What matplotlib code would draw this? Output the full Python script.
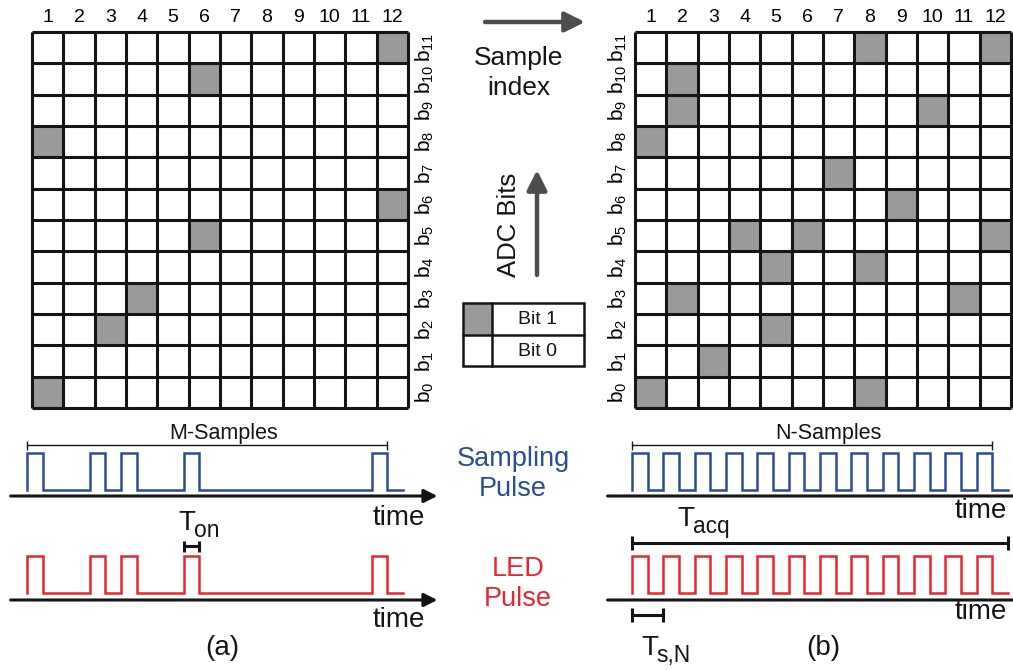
import numpy as np
import matplotlib
matplotlib.use("Agg")
import matplotlib.pyplot as plt
from matplotlib.patches import Rectangle

plt.rcParams["font.family"] = ["Liberation Sans", "DejaVu Sans"]
plt.rcParams["mathtext.fontset"] = "custom"
plt.rcParams["mathtext.rm"] = "Liberation Sans"
plt.rcParams["mathtext.it"] = "Liberation Sans"

# --- data -------------------------------------------------------------
n_cols = 12
n_bits = 12
col_labels = [str(i) for i in range(1, n_cols + 1)]
bit_labels = [rf"$\mathregular{{b_{{{i}}}}}$" for i in range(n_bits)]

# (column, bit) pairs set to 1
cells_a = [(12, 11), (6, 10), (1, 8), (12, 6), (6, 5), (4, 3), (3, 2), (1, 0)]
cells_b = [(8, 11), (12, 11), (2, 10), (2, 9), (10, 9), (1, 8), (7, 7), (9, 6),
           (4, 5), (6, 5), (12, 5), (5, 4), (8, 4), (2, 3), (11, 3), (5, 2),
           (3, 1), (1, 0), (8, 0)]

# sample slots that fire a pulse
pulses_a = [1, 3, 4, 6, 12]
pulses_b = list(range(1, 13))
duty = 0.5

# --- style ------------------------------------------------------------
W, H = 1013, 670
P = 31.33  # px per sample slot
GRAY = "#9a9a9a"
INK = "#151515"
BLUE = "#2b4c98"
RED = "#e8262e"

fig = plt.figure(figsize=(W / 100, H / 100), dpi=100)


def px_axes(l, t, w, h, **kw):
    return fig.add_axes([l / W, 1 - (t + h) / H, w / W, h / H], **kw)


def draw_grid(ax, cells, side):
    ax.set_xlim(0.5, n_cols + 0.5)
    ax.set_ylim(-0.5, n_bits - 0.5)
    for c, b in cells:
        ax.add_patch(Rectangle((c - 0.5, b - 0.5), 1, 1, color=GRAY, lw=0))
    ax.vlines(np.arange(0.5, n_cols + 1), -0.5, n_bits - 0.5, color=INK, lw=2.2, clip_on=False)
    ax.hlines(np.arange(-0.5, n_bits), 0.5, n_cols + 0.5, color=INK, lw=2.2, clip_on=False)
    for s in ax.spines.values():
        s.set_visible(False)
    ax.set_xticks(range(1, n_cols + 1))
    ax.set_xticklabels(col_labels, fontsize=14)
    ax.xaxis.tick_top()
    ax.set_yticks(range(n_bits))
    ax.set_yticklabels(bit_labels, fontsize=15, rotation=90, va="center")
    if side == "right":
        ax.yaxis.tick_right()
    ax.tick_params(length=0, pad=4)
    ax.tick_params(axis="y", pad=4)


grid_a = px_axes(32, 32, 376, 376)
draw_grid(grid_a, cells_a, "right")
grid_b = px_axes(635, 32, 376, 376)
draw_grid(grid_b, cells_b, "left")


def pulse_xy(slots, t_end, hi, lo):
    xs, ys = [0], [lo]
    for s in slots:
        t = s - 1
        xs += [t, t, t + duty, t + duty]
        ys += [lo, hi, hi, lo]
    xs.append(t_end)
    ys.append(lo)
    return xs, ys


def bracket(ax, t0, t1, y, half, lw):
    ax.plot([t0, t1], [y, y], color=INK, lw=lw, solid_capstyle="butt")
    ax.vlines([t0, t1], y - half, y + half, color=INK, lw=lw)


def time_axis(ax, t0, t1, y):
    ax.annotate("", xy=(t1, y), xytext=(t0, y), annotation_clip=False,
                arrowprops=dict(arrowstyle="-|>", color=INK, lw=2.2,
                                mutation_scale=20, shrinkA=0, shrinkB=0))


def pulse_panel(l, w, t0_px, slots, ax_start, ax_end):
    ax = px_axes(l, 420, w, 250)
    ax.set_xlim((l - t0_px) / P, (l + w - t0_px) / P)
    ax.set_ylim(670, 420)
    ax.axis("off")
    xs, ys = pulse_xy(slots, n_cols, 453, 490)
    ax.plot(xs, ys, color=BLUE, lw=1.8, solid_joinstyle="miter")
    xs, ys = pulse_xy(slots, n_cols, 556, 593)
    ax.plot(xs, ys, color=RED, lw=1.8, solid_joinstyle="miter")
    time_axis(ax, ax_start, ax_end, 496)
    time_axis(ax, ax_start, ax_end, 600)
    bracket(ax, 0, slots[-1] - 1 + duty, 445, 4.5, 1.0)
    return ax


pa = pulse_panel(0, 450, 27, pulses_a, -0.52, 13.1)
bracket(pa, pulses_a[3] - 1, pulses_a[3] - 1 + duty, 546, 5.5, 2.2)

pb = pulse_panel(590, W - 590, 632, pulses_b, -0.78, 12.98)
bracket(pb, 0, n_cols, 543, 7, 2.2)
bracket(pb, 0, 1, 615, 7, 2.2)

# --- overlay: labels, arrows, legend ----------------------------------
ov = px_axes(0, 0, W, H, zorder=-1)
ov.set_xlim(0, W)
ov.set_ylim(H, 0)
ov.axis("off")
ov.patch.set_alpha(0)

arrow_kw = dict(arrowstyle="-|>", color="#4d4d4d", lw=3.2, mutation_scale=30,
                shrinkA=0, shrinkB=0)
ov.annotate("", xy=(585, 22), xytext=(485, 22), arrowprops=arrow_kw)
ov.annotate("", xy=(537, 170), xytext=(537, 275), arrowprops=arrow_kw)

ov.text(519, 73, "Sample\nindex", fontsize=19, ha="center", va="center",
        linespacing=1.3, color=INK)
ov.text(509, 225, "ADC Bits", fontsize=18.5, ha="center", va="center",
        rotation=90, color=INK)

# legend box
ov.add_patch(Rectangle((463, 303), 29, 32, color=GRAY, lw=0))
ov.add_patch(Rectangle((463, 303), 121, 63, fill=False, ec=INK, lw=1.8))
ov.plot([492, 492], [303, 366], color=INK, lw=1.8)
ov.plot([463, 584], [335, 335], color=INK, lw=1.8)
ov.text(538, 320, "Bit 1", fontsize=14, ha="center", va="center", color=INK)
ov.text(538, 351, "Bit 0", fontsize=14, ha="center", va="center", color=INK)

ov.text(513, 474, "Sampling\nPulse", fontsize=19.5, ha="center", va="center",
        linespacing=1.25, color=BLUE)
ov.text(518, 584, "LED\nPulse", fontsize=19.5, ha="center", va="center",
        linespacing=1.25, color=RED)

ov.text(224, 433, "M-Samples", fontsize=15.5, ha="center", va="center", color=INK)
ov.text(828, 433, "N-Samples", fontsize=15.5, ha="center", va="center", color=INK)
for x, y in [(399, 518), (399, 620), (981, 511), (981, 612)]:
    ov.text(x, y, "time", fontsize=20, ha="center", va="center", color=INK)


def t_label(x, y, sub, size=20):
    # capital T with a large subscript, baseline-aligned by hand
    ov.text(x, y, "T", fontsize=size, ha="left", va="baseline", color=INK)
    ov.text(x + size * 0.78, y + size * 0.36, sub, fontsize=size * 0.82,
            ha="left", va="baseline", color=INK)


t_label(178, 530, "on")
t_label(677, 526, "acq")
t_label(641, 655, "s,N")
ov.text(222, 648, "(a)", fontsize=20, ha="center", va="center", color=INK)
ov.text(823, 648, "(b)", fontsize=20, ha="center", va="center", color=INK)

fig.savefig("out.png", dpi=100)
